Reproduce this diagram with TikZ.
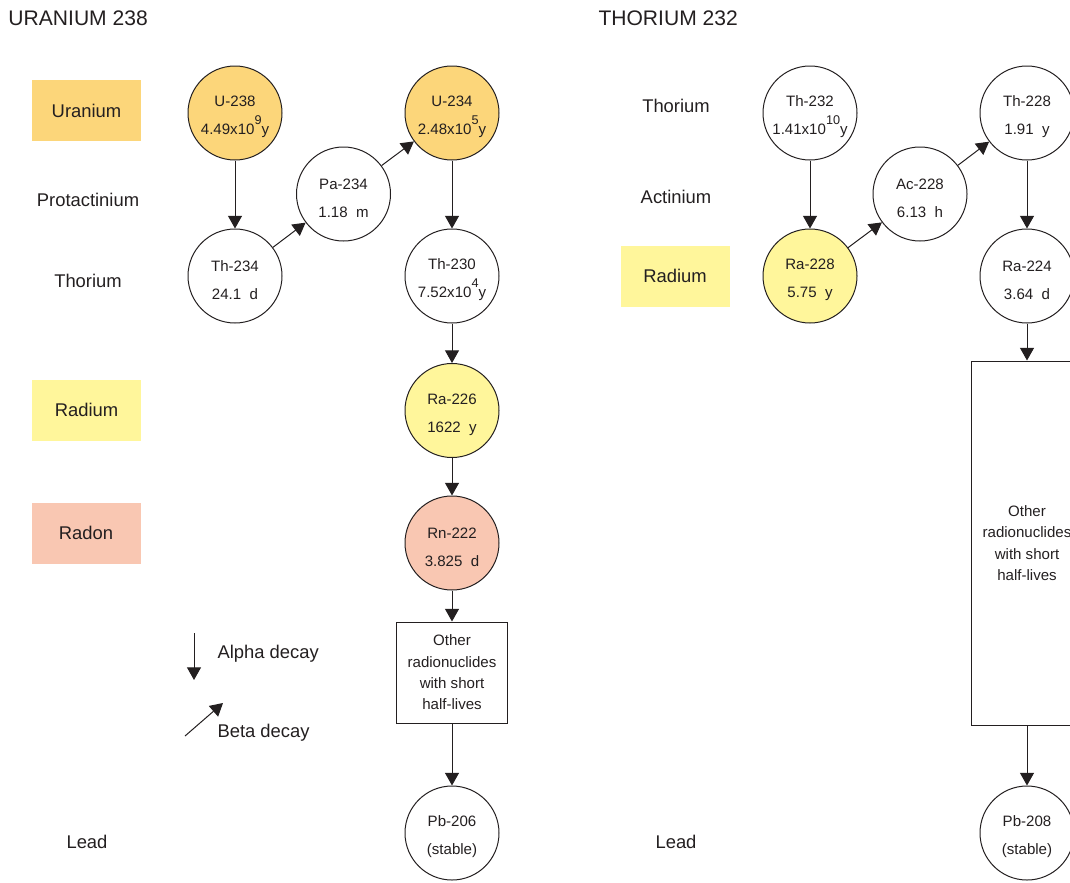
\documentclass[tikz,border=0pt]{standalone}
\usepackage{fontspec}
\setmainfont{Liberation Sans}
\usetikzlibrary{arrows.meta}

\definecolor{ink}{RGB}{35,31,32}
\definecolor{uranium}{RGB}{252,214,122}
\definecolor{radium}{RGB}{255,246,155}
\definecolor{radon}{RGB}{249,199,178}

% raised exponent and a strut that pushes circle text down a bit
\newcommand\pow[1]{\raisebox{7.5pt}{\fontsize{9.5}{10}\selectfont#1}}
\newcommand\nucstrut{\rule{0pt}{14pt}}

\tikzset{every picture/.style={line width=0.75pt}}

\begin{document}
\begin{tikzpicture}[x=0.75pt,y=0.75pt,yscale=-1,xscale=1,
  nuc/.style={circle, draw=ink, minimum size=70.5pt, inner sep=0pt, align=center, text=ink, font=\fontsize{11.3}{21}\selectfont},
  restbox/.style={draw=ink, inner sep=0pt, align=center, text=ink, font=\fontsize{11.3}{16}\selectfont},
  elem/.style={text=ink, font=\fontsize{13.8}{16}\selectfont},
  elembox/.style={elem, minimum width=81.75pt, minimum height=45.75pt},
  heading/.style={text=ink, anchor=west, inner sep=0pt, font=\fontsize{15.8}{18}\selectfont},
  decay/.style={draw=ink, -{Triangle[length=9.5pt,width=10.5pt]}}]
\useasboundingbox (0,0) rectangle (1070,882);
\clip (0,0) rectangle (1070,882);

% Text Node
\node[heading] (uhead) at (8,18) {URANIUM 238};
\node[heading] (thhead) at (598,18) {THORIUM 232};

%Shape: Rectangle
\node[elembox, fill=uranium] (uranium) at (86.5,110.5) {Uranium};
\node[elem] (protac) at (88,200) {Protactinium};
\node[elem] (thorium) at (88,281) {Thorium};
\node[elembox, fill=radium] (radium) at (86.5,410) {Radium};
\node[elembox, fill=radon] (radon) at (86,533) {Radon};
\node[elem] (lead) at (87,842) {Lead};

%Shape: Circle
\node[nuc, fill=uranium] (u238) at (235,113) {\nucstrut U-238\\4.49x10\pow{9}y};
\node[nuc] (th234) at (235,276) {\nucstrut Th-234\\24.1~~d};
\node[nuc] (pa234) at (343.5,194) {\nucstrut Pa-234\\1.18~~m};
\node[nuc, fill=uranium] (u234) at (452,113) {\nucstrut U-234\\2.48x10\pow{5}y};
\node[nuc] (th230) at (452,276) {\nucstrut Th-230\\7.52x10\pow{4}y};
\node[nuc, fill=radium] (ra226) at (452,410.5) {\nucstrut Ra-226\\1622~~y};
\node[nuc, fill=radon] (rn222) at (452,543) {\nucstrut Rn-222\\3.825~~d};
\node[restbox, minimum width=83.25pt, minimum height=75.75pt] (rest1) at (452,672.5) {Other\\radionuclides\\with short\\half-lives};
\node[nuc] (pb206) at (452,833) {\nucstrut Pb-206\\(stable)};

%Straight Lines
\draw[decay] (u238) -- (th234);
\draw[decay] (th234) -- (pa234);
\draw[decay] (pa234) -- (u234);
\draw[decay] (u234) -- (th230);
\draw[decay] (th230) -- (ra226);
\draw[decay] (ra226) -- (rn222);
\draw[decay] (rn222) -- (rest1);
\draw[decay] (rest1) -- (pb206);

% legend
\coordinate (alphafrom) at (194,633);
\coordinate (alphato) at (194,680);
\coordinate (betafrom) at (185,736);
\coordinate (betato) at (223,703);
\draw[decay] (alphafrom) -- (alphato);
\draw[decay] (betafrom) -- (betato);
\node[elem, anchor=west, inner sep=0pt] (alphatext) at (217,654) {Alpha decay};
\node[elem, anchor=west, inner sep=0pt] (betatext) at (217,733) {Beta decay};

% Text Node
\node[elem] (thorium2) at (676,106) {Thorium};
\node[elem] (actin) at (676,197) {Actinium};
\node[elembox, fill=radium] (radium2) at (675,276) {Radium};
\node[elem] (lead2) at (676,842) {Lead};

%Shape: Circle
\node[nuc] (th232) at (810,113) {\nucstrut Th-232\\1.41x10\pow{10}y};
\node[nuc] (ac228) at (920,194) {\nucstrut Ac-228\\6.13~~h};
\node[nuc, fill=radium] (ra228) at (810,276) {\nucstrut Ra-228\\5.75~~y};
\node[nuc] (th228) at (1027,113) {\nucstrut Th-228\\1.91~~y};
\node[nuc] (ra224) at (1027,276) {\nucstrut Ra-224\\3.64~~d};
\node[restbox, minimum width=84pt, minimum height=273pt] (rest2) at (1027,543) {Other\\radionuclides\\with short\\half-lives};
\node[nuc] (pb208) at (1027,833) {\nucstrut Pb-208\\(stable)};

%Straight Lines
\draw[decay] (th232) -- (ra228);
\draw[decay] (ra228) -- (ac228);
\draw[decay] (ac228) -- (th228);
\draw[decay] (th228) -- (ra224);
\draw[decay] (ra224) -- (rest2);
\draw[decay] (rest2) -- (pb208);

\end{tikzpicture}
\end{document}
